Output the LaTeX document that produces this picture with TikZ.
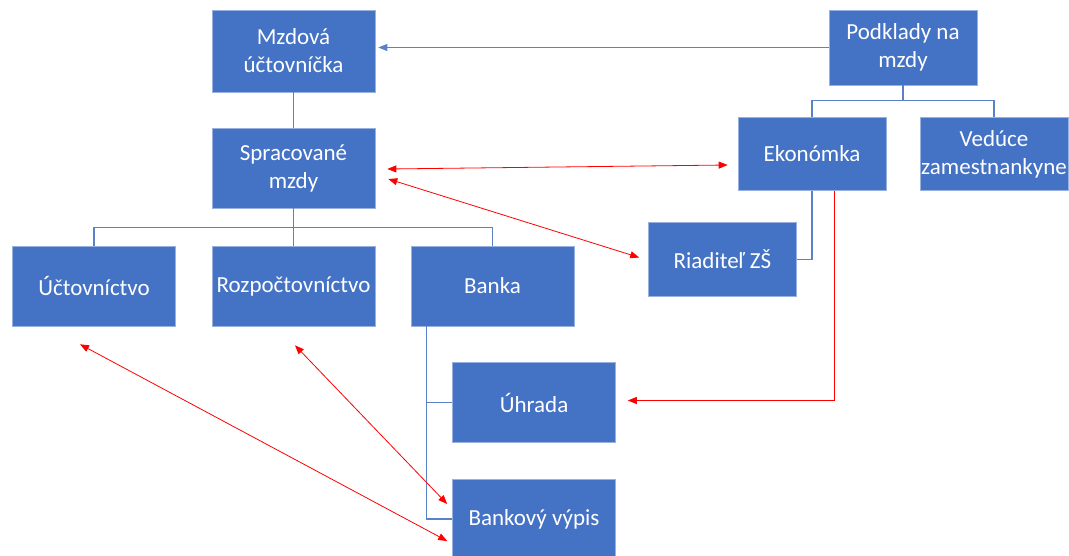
\documentclass[tikz,border=0pt]{standalone}
\usepackage{fontspec}
\setmainfont{Carlito}
\usetikzlibrary{arrows.meta}
\definecolor{boxblue}{HTML}{4472C4}
\definecolor{lineblue}{HTML}{5B82C9}

\begin{document}
\begin{tikzpicture}[x=1pt, y=-1pt,
    box/.style={fill=boxblue, draw=boxblue!55!white, line width=0.6pt, text=white, align=center,
        inner sep=0pt, minimum width=163pt, minimum height=80pt, font=\fontsize{23}{28}\selectfont},
    smallbox/.style={box, minimum width=148pt, minimum height=73pt},
    link/.style={draw=lineblue, line width=1.4pt},
    redline/.style={draw=red, line width=0.8pt},
    redarrow/.style={redline, {Triangle[length=9pt,width=7pt]}-{Triangle[length=9pt,width=7pt]}}]
    \useasboundingbox (0,0) rectangle (1069,555);
    \node[box, minimum height=82pt] (mzda) at (293.5,51) {Mzdová\\účtovníčka};
    \node[smallbox, minimum height=75pt] (podk) at (903,47.5) {Podklady na\\mzdy};
    \node[box] (sprac) at (293.5,168) {Spracované\\mzdy};
    \node[smallbox] (ekon) at (812,154) {Ekonómka};
    \node[smallbox] (ved) at (994,154) {Vedúce\\zamestnankyne};
    \node[smallbox, minimum height=74pt] (riad) at (722.5,259.5) {Riaditeľ ZŠ};
    \node[box] (uct) at (94,286) {Účtovníctvo};
    \node[box] (rozp) at (293.5,286) {Rozpočtovníctvo};
    \node[box] (banka) at (492.5,286) {Banka};
    \node[box] (uhr) at (534,402.5) {Úhrada};
    \node[box] (vypis) at (534,519) {Bankový výpis};

    \draw[link, line width=1pt, -{Triangle[length=9pt,width=7pt]}, shorten >=3pt] (podk.west) -- (podk.west -| mzda.east);
    \draw[link] (mzda) -- (sprac);
    \draw[link] (sprac.south) -- ++(0,19) coordinate (fork1);
    \draw[link] (uct.north) |- (fork1) -| (banka.north);
    \draw[link] (fork1) -- (rozp.north);
    \draw[link] (podk.south) -- ++(0,15) coordinate (fork2);
    \draw[link] (ekon.north) |- (fork2) -| (ved.north);
    \draw[link] (ekon.south) |- (riad.east);
    \draw[link] ([xshift=16pt]banka.south west) |- (uhr.west);
    \draw[link] ([xshift=16pt]banka.south west) |- (vypis.west);

    \draw[redarrow] ([xshift=12pt,yshift=-1pt]sprac.east) -- ([xshift=-10pt,yshift=-11pt]ekon.west);
    \draw[redarrow] ([xshift=13pt,yshift=-11pt]sprac.east) -- ([xshift=-9pt,yshift=2pt]riad.west);
    \draw[redline, -{Triangle[length=9pt,width=7pt]}] ([xshift=22pt]ekon.south) |- ([xshift=12pt,yshift=2pt]uhr.east);
    \draw[redarrow] ([xshift=-14pt,yshift=-18pt]uct.south) -- ([xshift=-5pt,yshift=-22pt]vypis.west);
    \draw[redarrow] ([xshift=1.5pt,yshift=-19pt]rozp.south) -- ([xshift=-5pt,yshift=15pt]vypis.west);
\end{tikzpicture}
\end{document}
